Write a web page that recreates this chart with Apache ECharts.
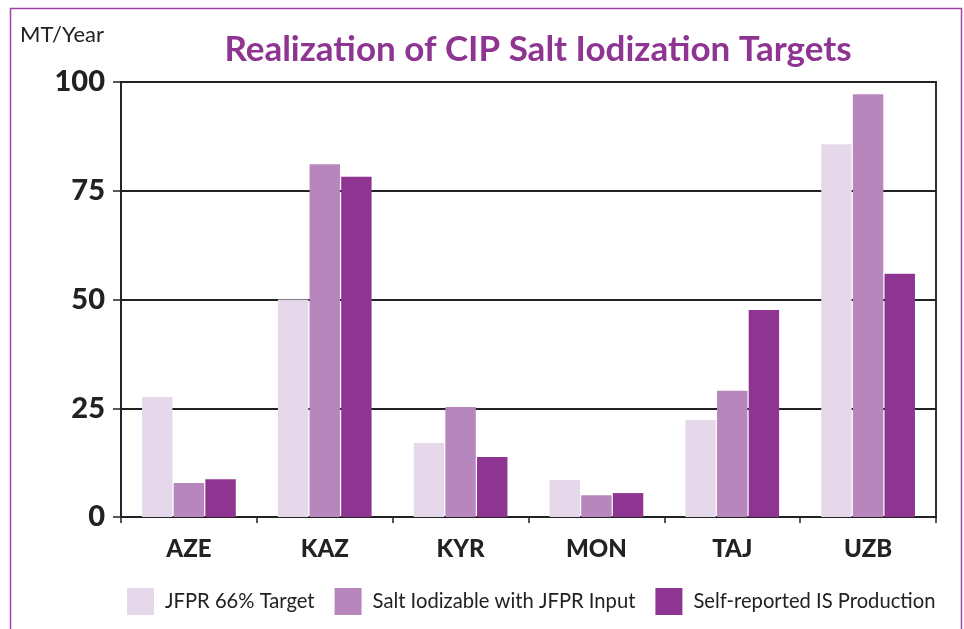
<!DOCTYPE html>
<html>
<head>
<meta charset="utf-8">
<script src="https://cdn.jsdelivr.net/npm/echarts@6/dist/echarts.min.js"></script>
<style>html,body{margin:0;padding:0;background:#fff;}#c{width:964px;height:629px;}</style>
</head>
<body>
<div id="c"></div>
<script>
var categories = ['AZE', 'KAZ', 'KYR', 'MON', 'TAJ', 'UZB'];
var jfprTarget = [27.6, 50.0, 17.0, 8.5, 22.3, 85.7];
var saltIodizable = [7.8, 81.1, 25.3, 5.0, 29.0, 97.2];
var selfReported = [8.7, 78.2, 13.8, 5.5, 47.6, 55.9];
var yTicks = [0, 25, 50, 75, 100];
var seriesNames = ['JFPR 66% Target', 'Salt Iodizable with JFPR Input', 'Self-reported IS Production'];
var colors = ['#E6D8EB', '#B786BC', '#8E3592'];

var FONT = 'Lato, "Open Sans", sans-serif';
var chart = echarts.init(document.getElementById('c'), null, {renderer: 'canvas'});
chart.setOption({
  animation: false,
  color: colors,
  graphic: [{
    type: 'rect',
    shape: {x: 10.5, y: 8.5, width: 951, height: 660},
    style: {fill: 'none', stroke: '#A043A6', lineWidth: 1.5},
    silent: true
  }, {
    type: 'text',
    left: 20, top: 24,
    style: {text: 'MT/Year', fill: '#222', font: '22px ' + FONT},
    silent: true
  }],
  title: {
    text: 'Realization of CIP Salt Iodization Targets',
    left: 533, top: 27, textAlign: 'center',
    textStyle: {color: '#8E3592', fontFamily: FONT, fontWeight: 'bold', fontSize: 35}
  },
  legend: {
    bottom: 9, left: 122,
    itemWidth: 27, itemHeight: 27, itemGap: 20,
    icon: 'rect',
    textStyle: {fontFamily: FONT, fontSize: 20.2, color: '#222', padding: [0, 0, 0, 6]},
    data: seriesNames
  },
  grid: {left: 121, right: 28, top: 82, bottom: 112, show: true, borderColor: '#333', borderWidth: 2, containLabel: false},
  xAxis: {
    type: 'category',
    data: categories,
    axisLine: {lineStyle: {color: '#222', width: 2}},
    axisTick: {show: true, alignWithLabel: false, length: 6, lineStyle: {color: '#222', width: 1.5}},
    axisLabel: {color: '#222', fontFamily: FONT, fontWeight: 900, fontSize: 24, margin: 20}
  },
  yAxis: {
    type: 'value', min: 0, max: 100, interval: 25,
    axisLine: {show: true, lineStyle: {color: '#222', width: 1.5}},
    axisTick: {show: true, length: 8, lineStyle: {color: '#222', width: 1.5}},
    axisLabel: {color: '#222', fontFamily: FONT, fontWeight: 900, fontSize: 29, margin: 16,
      formatter: function (v) { return yTicks.indexOf(v) >= 0 ? String(v) : ''; }},
    splitLine: {lineStyle: {color: '#222', width: 2}}
  },
  series: [
    {name: seriesNames[0], type: 'bar', data: jfprTarget, barGap: '4%', barCategoryGap: '31%'},
    {name: seriesNames[1], type: 'bar', data: saltIodizable, barGap: '4%', barCategoryGap: '31%'},
    {name: seriesNames[2], type: 'bar', data: selfReported, barGap: '4%', barCategoryGap: '31%'}
  ]
});
</script>
</body>
</html>
